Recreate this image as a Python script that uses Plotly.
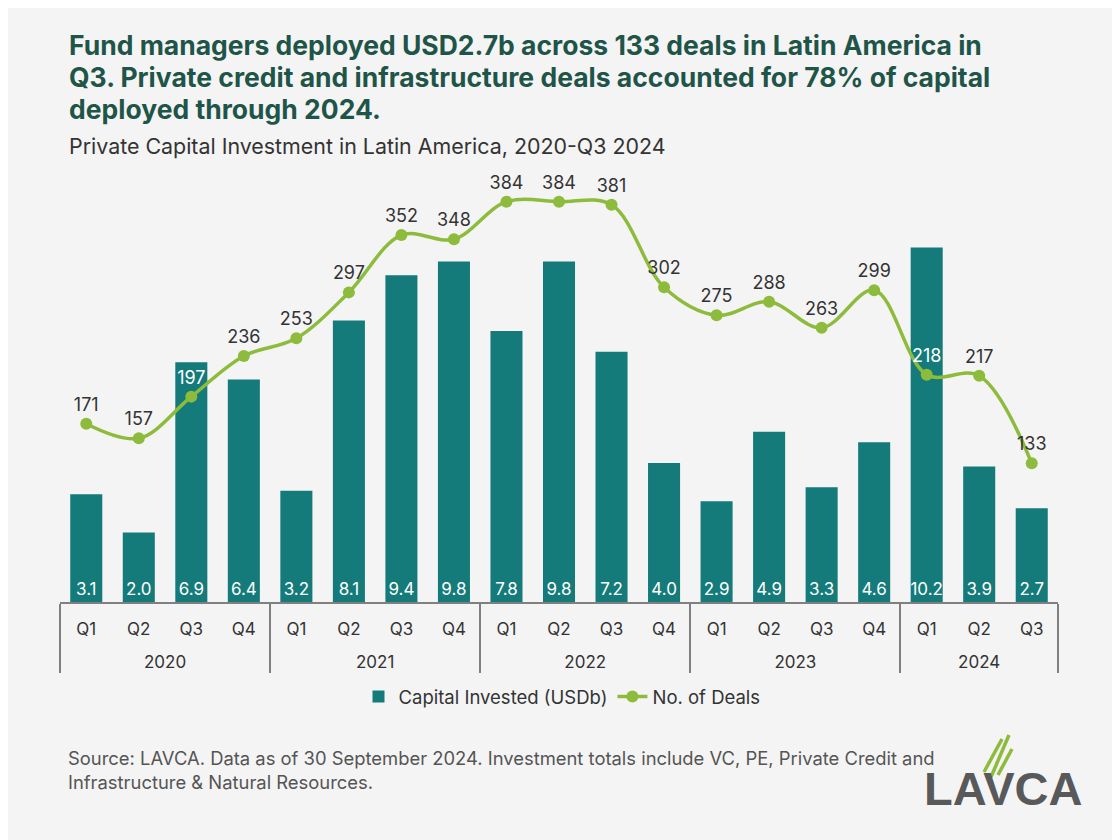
import plotly.graph_objects as go

years = ["2020"] * 4 + ["2021"] * 4 + ["2022"] * 4 + ["2023"] * 4 + ["2024"] * 3
quarters = ["Q1", "Q2", "Q3", "Q4"] * 4 + ["Q1", "Q2", "Q3"]
capital = [3.1, 2.0, 6.9, 6.4, 3.2, 8.1, 9.4, 9.8, 7.8, 9.8, 7.2, 4.0, 2.9, 4.9, 3.3, 4.6, 10.2, 3.9, 2.7]
deals = [171, 157, 197, 236, 253, 297, 352, 348, 384, 384, 381, 302, 275, 288, 263, 299, 218, 217, 133]
title_lines = [
    "Fund managers deployed USD2.7b across 133 deals in Latin America in",
    "Q3. Private credit and infrastructure deals accounted for 78% of capital",
    "deployed through 2024.",
]

W, H = 1120, 840
OFF = 8  # page body margin offset
L, R, T, B = 60, 1058, 185, 602  # plot area in screen pixels


def px(x):
    return (x - L) / (R - L)


def py(y):
    return (B - y) / (B - T)


BG = "#F4F4F4"
TEAL = "#147A7A"
GREEN = "#8DBB3C"
FONT = "Inter, Roboto, sans-serif"

deal_label_colors = ["#333333"] * len(deals)
deal_label_colors[2] = "#FFFFFF"
deal_label_colors[16] = "#FFFFFF"

# year row is shown one line lower, as in the reference
year_labels = ["<br>" + y for y in years]

fig = go.Figure()
fig.add_trace(go.Bar(
    x=[year_labels, quarters], y=capital, name="Capital Invested (USDb)",
    marker=dict(color=TEAL, line=dict(width=0)),
    texttemplate="%{y:.1f}", textposition="inside", insidetextanchor="start", textangle=0,
    textfont=dict(color="white", size=17, family=FONT),
    constraintext="none", cliponaxis=False,
))
fig.add_trace(go.Scatter(
    x=[year_labels, quarters], y=deals, name="No. of Deals", yaxis="y2",
    mode="lines+markers+text", line=dict(color=GREEN, width=3.5, shape="spline", smoothing=1.0),
    marker=dict(color=GREEN, size=12),
    text=[str(d) for d in deals], textposition="top center",
    textfont=dict(color=deal_label_colors, size=18, family=FONT),
    cliponaxis=False,
))

annotations = []
for i, (line, yc) in enumerate(zip(title_lines, [45, 77, 109])):
    annotations.append(dict(
        text="<b>" + line + "</b>", xref="paper", yref="paper", x=px(67), y=py(yc),
        xanchor="left", yanchor="middle", showarrow=False,
        font=dict(size=26.5, color="#1F5548", family=FONT)))
annotations += [
    dict(text="Private Capital Investment in Latin America, 2020-Q3 2024",
         xref="paper", yref="paper", x=px(67), y=py(146), xanchor="left", yanchor="middle",
         showarrow=False, font=dict(size=21.4, color="#333333", family=FONT)),
    dict(text="Source: LAVCA. Data as of 30 September 2024. Investment totals include VC, PE, Private Credit and<br>"
              "Infrastructure & Natural Resources.",
         xref="paper", yref="paper", x=px(66), y=py(745), xanchor="left", yanchor="top",
         align="left", showarrow=False, font=dict(size=18.4, color="#555555", family=FONT)),
    dict(text="<b>LAVCA</b>", xref="paper", yref="paper", x=px(1003), y=py(788),
         xanchor="center", yanchor="middle", showarrow=False,
         font=dict(size=47, color="#58595B", family="Liberation Sans, Arial, sans-serif")),
]

fig.update_layout(
    width=W, height=H,
    paper_bgcolor=BG, plot_bgcolor=BG,
    margin=dict(l=L - OFF, r=W - (R - OFF), t=T - OFF, b=H - (B - OFF)),
    font=dict(family=FONT, color="#333333", size=17),
    bargap=0.39,
    uniformtext=dict(minsize=17, mode="show"),
    xaxis=dict(
        type="multicategory", range=[-0.5, len(capital) - 0.5],
        showline=True, linecolor="#808080", linewidth=1.5,
        showdividers=True, dividercolor="#808080", dividerwidth=1.5,
        ticks="", tickfont=dict(size=17, color="#333333"), showgrid=False,
        ticklabelstandoff=11,
    ),
    yaxis=dict(range=[0, 12], visible=False, showgrid=False),
    yaxis2=dict(range=[0, 400], visible=False, overlaying="y", showgrid=False),
    legend=dict(
        orientation="h", x=px(562), y=py(697), xanchor="center", yanchor="middle",
        font=dict(size=18.5, color="#333333"), bgcolor="rgba(0,0,0,0)",
        itemwidth=30, tracegroupgap=0,
    ),
    annotations=annotations,
    shapes=[
        dict(type="line", xref="paper", yref="paper", x0=px(x0), y0=py(y0), x1=px(x1), y1=py(y1),
             line=dict(color=GREEN, width=3.5))
        for (x0, y0, x1, y1) in [(984, 772, 1002, 739), (991, 777, 1009, 735), (998, 775, 1012, 749)]
    ],
)

fig.write_html("out.html")
